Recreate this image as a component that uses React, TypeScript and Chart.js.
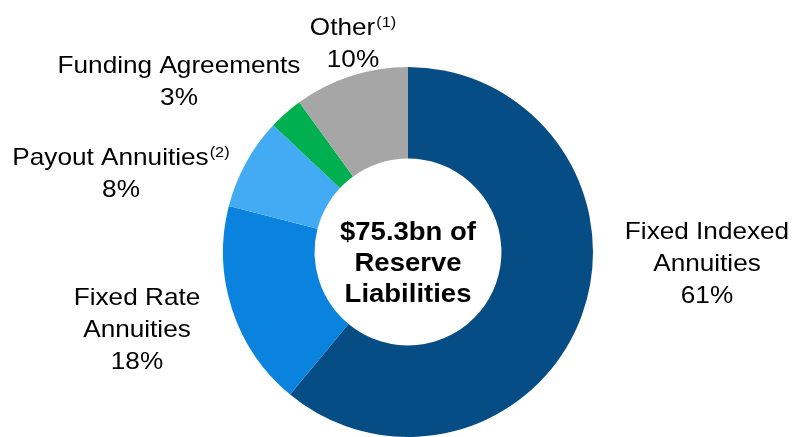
import React, { useEffect, useRef } from "react";
import { Chart, registerables } from "chart.js";

Chart.register(...registerables);

const categories = [
  "Fixed Indexed Annuities",
  "Fixed Rate Annuities",
  "Payout Annuities",
  "Funding Agreements",
  "Other",
];
const values = [61, 18, 8, 3, 10];
const footnotes = ["", "", "(2)", "", "(1)"];
const labelLines = [
  ["Fixed Indexed", "Annuities"],
  ["Fixed Rate", "Annuities"],
  ["Payout Annuities"],
  ["Funding Agreements"],
  ["Other"],
];
const centerLines = ["$75.3bn of", "Reserve", "Liabilities"];
const colors = ["#064D86", "#0A83DF", "#43AAF4", "#00B050", "#A6A6A6"];

// label layout: center x, first baseline y
const labelPos = [
  { x: 707, y: 239 },
  { x: 137, y: 305 },
  { x: 121, y: 165 },
  { x: 179, y: 73 },
  { x: 353, y: 35 },
];

const FONT = '"Liberation Sans", Arial, sans-serif';

const labelPlugin = {
  id: "labelPlugin",
  afterDraw(chart: any) {
    const ctx = chart.ctx as CanvasRenderingContext2D;
    const sx = 1.09;
    const lh = 32;
    ctx.save();
    ctx.fillStyle = "#000";
    ctx.textBaseline = "alphabetic";
    ctx.textAlign = "left";
    categories.forEach((_, i) => {
      const lines = [...labelLines[i], values[i] + "%"];
      const p = labelPos[i];
      lines.forEach((line, j) => {
        const y = p.y + j * lh;
        const isLastText = j === labelLines[i].length - 1;
        const sup = isLastText ? footnotes[i] : "";
        ctx.font = `24px ${FONT}`;
        const w1 = ctx.measureText(line).width * sx;
        ctx.font = `15px ${FONT}`;
        const w2 = sup ? ctx.measureText(sup).width * sx + 1 : 0;
        const x0 = p.x - (w1 + w2) / 2;
        ctx.save();
        ctx.translate(x0, y);
        ctx.scale(sx, 1);
        ctx.font = `24px ${FONT}`;
        ctx.fillText(line, 0, 0);
        ctx.restore();
        if (sup) {
          ctx.save();
          ctx.translate(x0 + w1 + 1, y - 8);
          ctx.scale(sx, 1);
          ctx.font = `15px ${FONT}`;
          ctx.fillText(sup, 0, 0);
          ctx.restore();
        }
      });
    });
    // center text
    const meta = chart.getDatasetMeta(0);
    const arc = meta.data[0];
    const cx = arc.x;
    const cy = arc.y;
    ctx.font = `bold 25px ${FONT}`;
    const csx = 1.1;
    centerLines.forEach((line, j) => {
      const w = ctx.measureText(line).width * csx;
      ctx.save();
      ctx.translate(cx - w / 2, cy - 12 + j * 31);
      ctx.scale(csx, 1);
      ctx.fillText(line, 0, 0);
      ctx.restore();
    });
    ctx.restore();
  },
};

export default function App() {
  const ref = useRef<HTMLCanvasElement>(null);
  useEffect(() => {
    document.body.style.margin = "0";
    const c = new Chart(ref.current!, {
      type: "doughnut",
      data: {
        labels: categories,
        datasets: [
          {
            data: values,
            backgroundColor: colors,
            borderWidth: 0,
          },
        ],
      },
      options: {
        animation: false,
        responsive: false,
        cutout: "50.5%",
        layout: { padding: { left: 223, right: 203, top: 67, bottom: 0 } },
        plugins: {
          legend: { display: false },
          tooltip: { enabled: false },
        },
      },
      plugins: [labelPlugin],
    });
    return () => c.destroy();
  }, []);
  return (
    <div style={{ width: 796, height: 437, background: "#fff" }}>
      <canvas ref={ref} width={796} height={437} />
    </div>
  );
}
